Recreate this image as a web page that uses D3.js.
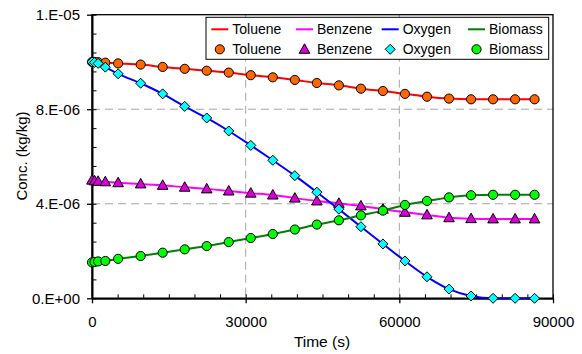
<!DOCTYPE html>
<html>
<head>
<meta charset="utf-8">
<script src="https://cdn.jsdelivr.net/npm/d3@7"></script>
<style>
  body { margin: 0; background: #fff; }
  svg { display: block; font-family: "Liberation Sans", Arial, sans-serif; }
</style>
</head>
<body>
<script>
// time points (s) shared by every series
var times = [0, 500, 1200, 2600, 5100, 9500, 13800, 18100, 22400, 26700, 31000, 35300,
             39600, 43900, 48200, 52500, 56800, 61100, 65400, 69700, 74000, 78300, 82600, 86400];

// concentrations, in units of 1e-6 kg/kg
var toluene = [10.0, 10.0, 9.99, 9.97, 9.94, 9.89, 9.79, 9.71, 9.63, 9.55, 9.44, 9.35,
               9.24, 9.11, 9.01, 8.87, 8.77, 8.65, 8.53, 8.45, 8.42, 8.42, 8.42, 8.42];
var benzene = [5.0, 4.97, 4.95, 4.93, 4.89, 4.84, 4.78, 4.70, 4.63, 4.54, 4.45, 4.37,
               4.24, 4.12, 4.02, 3.91, 3.77, 3.64, 3.53, 3.41, 3.37, 3.36, 3.36, 3.36];
var oxygen  = [10.0, 9.98, 9.94, 9.78, 9.50, 9.10, 8.65, 8.12, 7.63, 7.08, 6.47, 5.84,
               5.19, 4.49, 3.77, 3.03, 2.30, 1.58, 0.91, 0.39, 0.10, 0.0, 0.0, 0.0];
var biomass = [1.52, 1.54, 1.56, 1.58, 1.67, 1.79, 1.93, 2.07, 2.21, 2.38, 2.55, 2.72,
               2.91, 3.12, 3.30, 3.51, 3.71, 3.95, 4.12, 4.27, 4.36, 4.38, 4.38, 4.38];

var seriesNames = ["Toluene", "Benzene", "Oxygen", "Biomass"];
var xTicks = [0, 30000, 60000, 90000];
var xTickLabels = ["0", "30000", "60000", "90000"];
var yTicks = [0, 4e-6, 8e-6, 1.2e-5];
var yTickLabels = ["0.E+00", "4.E-06", "8.E-06", "1.E-05"];

var W = 582, H = 354;
var pL = 92, pR = 553, pT = 14.7, pB = 298.3;

var svg = d3.select("body").append("svg").attr("width", W).attr("height", H);

var x = d3.scaleLinear().domain([0, 90000]).range([pL, pR]);
var y = d3.scaleLinear().domain([0, 1.2e-5]).range([pB, pT]);

var series = [
  {name: seriesNames[0], vals: toluene, line: "#ff0000", fill: "#ff6600", shape: "circle"},
  {name: seriesNames[1], vals: benzene, line: "#ff00ff", fill: "#d800d8", shape: "triangle"},
  {name: seriesNames[2], vals: oxygen,  line: "#0000ff", fill: "#00ffff", shape: "diamond"},
  {name: seriesNames[3], vals: biomass, line: "#008000", fill: "#00ff00", shape: "circle"}
];

// gridlines
svg.selectAll(".hgrid").data(yTicks.slice(1, 3)).enter().append("line")
  .attr("x1", pL).attr("x2", pR)
  .attr("y1", function(d){ return y(d); }).attr("y2", function(d){ return y(d); })
  .attr("stroke", "#a6a6a6").attr("stroke-dasharray", "8,5");
svg.selectAll(".vgrid").data(xTicks.slice(1, 3)).enter().append("line")
  .attr("y1", pT).attr("y2", pB)
  .attr("x1", function(d){ return x(d); }).attr("x2", function(d){ return x(d); })
  .attr("stroke", "#a6a6a6").attr("stroke-dasharray", "8,5");

// frame
svg.append("rect").attr("x", pL).attr("y", pT)
  .attr("width", pR - pL).attr("height", pB - pT)
  .attr("fill", "none").attr("stroke", "#000").attr("stroke-width", 1.3);

// minor ticks (inward)
var xMinor = d3.range(0, 90001, 5000);
var yMinor = d3.range(0, 12.01, 0.8).map(function(d){ return d * 1e-6; });
svg.append("g").attr("transform", "translate(0," + pB + ")")
  .call(d3.axisBottom(x).tickValues(xMinor).tickSize(-4).tickFormat(""))
  .call(function(g){ g.select(".domain").remove(); });
svg.append("g").attr("transform", "translate(" + pL + ",0)")
  .call(d3.axisLeft(y).tickValues(yMinor).tickSize(-4.5).tickFormat(""))
  .call(function(g){ g.select(".domain").remove(); });

// major axes
var xAxis = svg.append("g").attr("transform", "translate(0," + pB + ")")
  .call(d3.axisBottom(x).tickValues(xTicks).tickSize(5).tickSizeOuter(0).tickPadding(13)
        .tickFormat(function(d, i){ return xTickLabels[i]; }));
var yAxis = svg.append("g").attr("transform", "translate(" + pL + ",0)")
  .call(d3.axisLeft(y).tickValues(yTicks).tickSize(5).tickSizeOuter(0).tickPadding(7)
        .tickFormat(function(d, i){ return yTickLabels[i]; }));
[xAxis, yAxis].forEach(function(g){
  g.attr("font-family", null).attr("font-size", 15);
  g.selectAll("text").attr("fill", "#000");
  g.select(".domain").attr("stroke-width", 2);
  g.selectAll(".tick line").attr("stroke-width", 1.3);
});

// axis titles
svg.append("text").attr("x", 322).attr("y", 347).attr("text-anchor", "middle")
  .attr("font-size", 15.5).text("Time (s)");
svg.append("text").attr("transform", "translate(27,156) rotate(-90)")
  .attr("text-anchor", "middle").attr("font-size", 15).text("Conc. (kg/kg)");

// marker shapes
function markerPath(shape) {
  if (shape === "triangle") return "M0,-5.5L5.3,4L-5.3,4Z";
  if (shape === "diamond") return "M0,-5L5,0L0,5L-5,0Z";
  return d3.symbol().type(d3.symbolCircle).size(66)();
}

var line = d3.line().curve(d3.curveMonotoneX);

var plot = svg.append("g");
series.forEach(function(s){
  var pts = times.map(function(t, i){ return [x(t), y(s.vals[i] * 1e-6)]; });
  plot.append("path").attr("d", line(pts)).attr("fill", "none")
    .attr("stroke", s.line).attr("stroke-width", 2);
});
series.forEach(function(s){
  plot.selectAll(null).data(times).enter().append("path")
    .attr("d", markerPath(s.shape))
    .attr("transform", function(t, i){ return "translate(" + x(t) + "," + y(s.vals[i] * 1e-6) + ")"; })
    .attr("fill", s.fill).attr("stroke", "#000").attr("stroke-width", 1);
});

// legend
var lg = svg.append("g").attr("font-size", 14);
lg.append("rect").attr("x", 206).attr("y", 17.3).attr("width", 342.7).attr("height", 42)
  .attr("fill", "#fff").attr("stroke", "#000").attr("stroke-width", 1);
var textX = [232.3, 317, 402.7, 489];
series.forEach(function(s, i){
  var tx = textX[i];
  lg.append("line").attr("x1", tx - 21).attr("x2", tx - 4).attr("y1", 29.3).attr("y2", 29.3)
    .attr("stroke", s.line).attr("stroke-width", 2);
  lg.append("text").attr("x", tx).attr("y", 29.3).attr("dy", "0.35em").text(s.name);
  lg.append("path").attr("d", markerPath(s.shape))
    .attr("transform", "translate(" + (tx - 12.5) + ",49.3)")
    .attr("fill", s.fill).attr("stroke", "#000").attr("stroke-width", 1);
  lg.append("text").attr("x", tx).attr("y", 49.3).attr("dy", "0.35em").text(s.name);
});
</script>
</body>
</html>
